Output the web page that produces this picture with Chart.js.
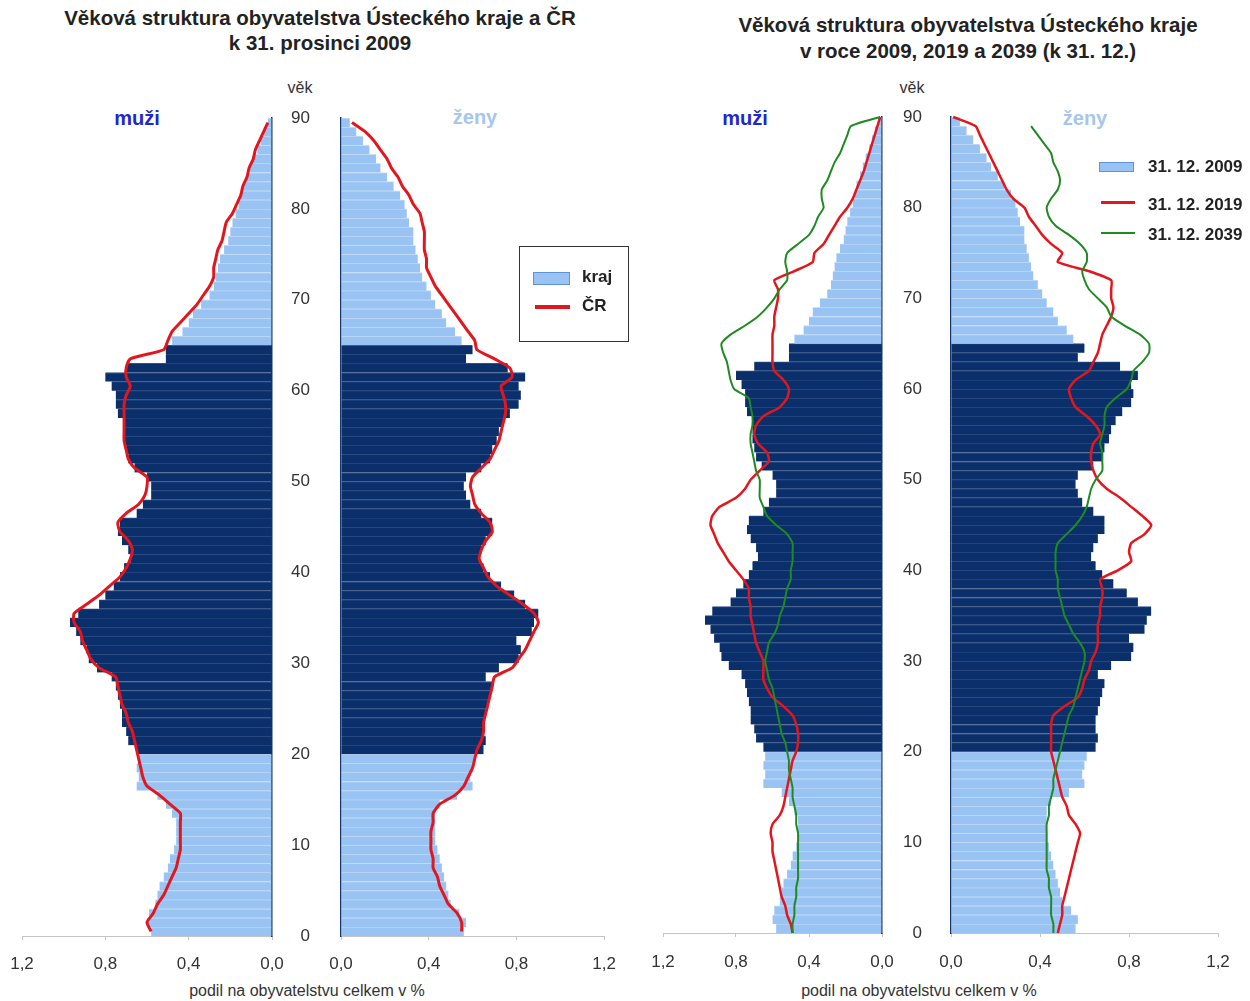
<!DOCTYPE html>
<html><head><meta charset="utf-8">
<script src="https://cdn.jsdelivr.net/npm/chart.js@4.4.1/dist/chart.umd.min.js"></script>
<style>
body{margin:0;background:#fff;font-family:"Liberation Sans",Arial,sans-serif;color:#222}
#page{position:relative;width:1250px;height:1001px;overflow:hidden;background:#fff}
.c{position:absolute;transform:translate(-50%,-50%);white-space:nowrap}
.l{position:absolute;transform:translate(0,-50%);white-space:nowrap}
.abs{position:absolute}
canvas{position:absolute}
.title{font-weight:bold;font-size:20.5px;color:#222}
.muzi{font-weight:bold;font-size:20px;color:#2424d0}
.zeny{font-weight:bold;font-size:20px;color:#a6c6ee}
.vek{font-size:16px;color:#333}
.axt{font-size:16px;color:#333}
.leg{font-weight:bold;font-size:17px;color:#222}
</style></head><body><div id="page">
<div class="c title" style="left:320px;top:18px">Věková struktura obyvatelstva Ústeckého kraje a ČR</div>
<div class="c title" style="left:320px;top:43px">k 31. prosinci 2009</div>
<div class="c title" style="left:968px;top:25px">Věková struktura obyvatelstva Ústeckého kraje</div>
<div class="c title" style="left:968px;top:51px">v roce 2009, 2019 a 2039 (k 31. 12.)</div>
<div class="c vek" style="left:300px;top:88px">věk</div>
<div class="c vek" style="left:912px;top:88px">věk</div>
<div class="c muzi" style="left:137px;top:118px">muži</div>
<div class="c zeny" style="left:475px;top:117px">ženy</div>
<div class="c muzi" style="left:745px;top:118px">muži</div>
<div class="c zeny" style="left:1085px;top:118px">ženy</div>
<div class="c axt" style="left:307px;top:991px">podil na obyvatelstvu celkem v %</div>
<div class="c axt" style="left:919px;top:991px">podil na obyvatelstvu celkem v %</div>

<canvas id="cLM" width="335" height="900" style="left:0;top:100px"></canvas>
<canvas id="cLF" width="320" height="900" style="left:310px;top:100px"></canvas>
<canvas id="cRM" width="300" height="900" style="left:640px;top:100px"></canvas>
<canvas id="cRF" width="330" height="900" style="left:920px;top:100px"></canvas>

<div class="abs" style="left:519px;top:246px;width:108px;height:94px;border:1px solid #333"></div>
<div class="abs" style="left:533px;top:272px;width:35px;height:11px;background:#99c3f3;border:1px solid #5f92d8"></div>
<div class="l leg" style="left:582px;top:277px">kraj</div>
<div class="abs" style="left:535px;top:305px;width:35px;height:4px;background:#e3161d"></div>
<div class="l leg" style="left:582px;top:306px">ČR</div>

<div class="abs" style="left:1099px;top:162px;width:33px;height:8px;background:#99c3f3;border:1px solid #5f92d8"></div>
<div class="l leg" style="left:1148px;top:167px">31. 12. 2009</div>
<div class="abs" style="left:1101px;top:201px;width:34px;height:3px;background:#e3161d"></div>
<div class="l leg" style="left:1148px;top:205px">31. 12. 2019</div>
<div class="abs" style="left:1101px;top:232px;width:34px;height:2px;background:#1f8a22"></div>
<div class="l leg" style="left:1148px;top:235px">31. 12. 2039</div>
</div>
<script>
// ages 0..89 (bars, 2009)
const ages = Array.from({length: 90}, (_, i) => i);
// ages 0..90 (projection lines)
const agesProj = Array.from({length: 91}, (_, i) => i);
const xTicks = [0, 0.4, 0.8, 1.2];
const ageTicks = [0, 10, 20, 30, 40, 50, 60, 70, 80, 90];

const maleKraj2009 = [0.58,0.60,0.59,0.56,0.55,0.54,0.52,0.50,0.49,0.47,
 0.46,0.46,0.46,0.48,0.51,0.55,0.65,0.64,0.65,0.64,
 0.65,0.69,0.70,0.72,0.72,0.73,0.74,0.75,0.77,0.84,
 0.88,0.89,0.92,0.94,0.97,0.93,0.83,0.80,0.76,0.73,
 0.71,0.68,0.69,0.72,0.74,0.73,0.65,0.62,0.58,0.58,
 0.60,0.66,0.69,0.70,0.71,0.71,0.71,0.74,0.75,0.75,
 0.77,0.80,0.70,0.51,0.51,0.48,0.43,0.40,0.38,0.34,
 0.30,0.28,0.27,0.26,0.25,0.23,0.21,0.20,0.19,0.175,
 0.16,0.15,0.14,0.12,0.106,0.09,0.07,0.055,0.04,0.02];
const femaleKraj2009 = [0.56,0.57,0.54,0.50,0.49,0.48,0.47,0.46,0.45,0.44,
 0.43,0.43,0.43,0.43,0.45,0.53,0.60,0.59,0.60,0.61,
 0.65,0.66,0.65,0.65,0.66,0.67,0.68,0.69,0.66,0.72,
 0.81,0.82,0.80,0.87,0.88,0.90,0.84,0.79,0.73,0.68,
 0.65,0.63,0.64,0.66,0.69,0.69,0.64,0.59,0.57,0.56,
 0.57,0.64,0.68,0.69,0.71,0.72,0.74,0.77,0.81,0.82,
 0.81,0.84,0.76,0.57,0.60,0.55,0.52,0.48,0.46,0.43,
 0.41,0.39,0.37,0.36,0.35,0.34,0.33,0.33,0.31,0.30,
 0.29,0.27,0.24,0.21,0.18,0.16,0.13,0.10,0.07,0.04];
const maleCR2009 = [0.58,0.60,0.57,0.55,0.52,0.50,0.48,0.46,0.45,0.44,
 0.44,0.44,0.44,0.44,0.49,0.54,0.60,0.62,0.63,0.64,
 0.65,0.66,0.67,0.69,0.70,0.72,0.73,0.74,0.75,0.83,
 0.87,0.89,0.91,0.92,0.95,0.95,0.89,0.83,0.78,0.73,
 0.70,0.68,0.67,0.69,0.73,0.74,0.70,0.64,0.61,0.60,
 0.60,0.66,0.69,0.70,0.71,0.71,0.71,0.71,0.71,0.70,
 0.68,0.70,0.70,0.68,0.52,0.50,0.48,0.44,0.40,0.36,
 0.33,0.30,0.28,0.28,0.27,0.26,0.24,0.23,0.22,0.19,
 0.17,0.15,0.14,0.12,0.11,0.09,0.08,0.06,0.04,0.02];
const femaleCR2009 = [0.55,0.55,0.53,0.49,0.47,0.45,0.44,0.42,0.42,0.41,
 0.41,0.41,0.42,0.42,0.45,0.52,0.56,0.58,0.60,0.61,
 0.62,0.64,0.65,0.65,0.66,0.67,0.68,0.69,0.70,0.78,
 0.81,0.84,0.86,0.88,0.90,0.88,0.83,0.77,0.71,0.67,
 0.65,0.63,0.64,0.66,0.69,0.68,0.64,0.61,0.60,0.59,
 0.60,0.64,0.68,0.70,0.72,0.73,0.74,0.75,0.75,0.74,
 0.73,0.78,0.77,0.70,0.62,0.61,0.58,0.55,0.52,0.49,
 0.46,0.43,0.41,0.39,0.39,0.38,0.38,0.38,0.37,0.36,
 0.33,0.31,0.28,0.26,0.23,0.21,0.18,0.15,0.11,0.05];

const male2019 = [0.49,0.50,0.52,0.53,0.55,0.56,0.57,0.58,0.59,0.60,
 0.60,0.61,0.60,0.56,0.54,0.53,0.52,0.51,0.50,0.49,
 0.47,0.46,0.46,0.47,0.49,0.54,0.60,0.63,0.65,0.65,
 0.65,0.67,0.69,0.70,0.71,0.72,0.72,0.73,0.73,0.76,
 0.80,0.84,0.87,0.90,0.92,0.94,0.93,0.89,0.80,0.75,
 0.72,0.67,0.62,0.63,0.68,0.70,0.69,0.65,0.56,0.52,
 0.51,0.54,0.59,0.60,0.60,0.60,0.60,0.59,0.59,0.58,
 0.57,0.57,0.59,0.48,0.38,0.37,0.32,0.29,0.26,0.23,
 0.19,0.16,0.14,0.12,0.10,0.085,0.07,0.055,0.04,0.025,0.01];
const male2039 = [0.49,0.49,0.48,0.48,0.47,0.47,0.46,0.46,0.46,0.46,
 0.46,0.46,0.47,0.47,0.48,0.49,0.49,0.50,0.51,0.51,
 0.52,0.53,0.55,0.56,0.57,0.58,0.59,0.60,0.62,0.63,
 0.64,0.63,0.62,0.59,0.57,0.56,0.54,0.53,0.52,0.50,
 0.50,0.49,0.49,0.49,0.52,0.58,0.63,0.65,0.67,0.67,
 0.67,0.69,0.70,0.71,0.72,0.72,0.71,0.71,0.72,0.73,
 0.81,0.83,0.84,0.85,0.87,0.88,0.83,0.75,0.68,0.63,
 0.59,0.56,0.52,0.52,0.53,0.52,0.46,0.40,0.37,0.35,
 0.32,0.33,0.33,0.30,0.28,0.26,0.23,0.21,0.19,0.17,0.01];
const female2019 = [0.48,0.49,0.50,0.50,0.51,0.52,0.53,0.54,0.55,0.56,
 0.57,0.58,0.56,0.53,0.52,0.50,0.49,0.48,0.47,0.46,
 0.45,0.45,0.45,0.45,0.46,0.51,0.57,0.59,0.60,0.62,
 0.63,0.65,0.66,0.66,0.66,0.67,0.67,0.68,0.68,0.67,
 0.75,0.81,0.80,0.81,0.87,0.90,0.86,0.81,0.76,0.70,
 0.66,0.64,0.63,0.63,0.64,0.67,0.65,0.61,0.56,0.54,
 0.53,0.56,0.62,0.64,0.66,0.67,0.68,0.70,0.72,0.73,
 0.72,0.72,0.72,0.62,0.48,0.50,0.45,0.41,0.38,0.35,
 0.33,0.28,0.25,0.23,0.21,0.19,0.17,0.15,0.13,0.11,0.01];
const female2039 = [0.46,0.46,0.45,0.45,0.45,0.44,0.44,0.43,0.43,0.43,
 0.43,0.43,0.43,0.44,0.44,0.45,0.46,0.46,0.47,0.48,
 0.49,0.50,0.51,0.52,0.53,0.55,0.56,0.57,0.58,0.59,
 0.60,0.60,0.58,0.55,0.53,0.51,0.50,0.49,0.48,0.48,
 0.47,0.47,0.47,0.48,0.52,0.56,0.59,0.61,0.62,0.63,
 0.65,0.68,0.68,0.68,0.67,0.68,0.69,0.69,0.70,0.74,
 0.79,0.81,0.82,0.86,0.89,0.89,0.85,0.78,0.72,0.70,
 0.66,0.62,0.60,0.59,0.61,0.61,0.58,0.53,0.47,0.44,
 0.43,0.45,0.48,0.49,0.48,0.46,0.45,0.42,0.39,0.36,null];

Chart.defaults.font.family = '"Liberation Sans", Arial, sans-serif';
Chart.defaults.color = '#333';
const LIGHT = '#99c3f3', DARK = '#0b2f6b', LIGHT_SEP = '#c8ddf7', DARK_SEP = '#2f4f86';
const RED = '#e3161d', GREEN = '#1f8a22';
const isWorkAge = a => a >= 20 && a <= 64;
const fmt = v => Number(v).toFixed(1).replace('.', ',');

function makeHalf(id, o) {
  const datasets = [];
  o.lines.forEach(l => {
    const pts = [];
    l.data.forEach((v, i) => { if (v != null) pts.push({x: v, y: l.ages[i] + o.lineShift}); });
    datasets.push({type: 'line', label: l.label, data: pts, borderColor: l.color,
      borderWidth: l.width, pointRadius: 0, tension: 0.2, fill: false, order: 1, clip: false});
  });
  datasets.push({type: 'bar', label: 'kraj', data: ages.map((a, i) => ({x: o.bars[i], y: a + 0.5})),
    backgroundColor: ages.map(a => isWorkAge(a) ? DARK : LIGHT),
    borderColor: ages.map(a => isWorkAge(a) ? DARK_SEP : LIGHT_SEP),
    borderWidth: {top: 1, bottom: 0, left: 0, right: 0}, borderSkipped: false,
    barPercentage: 1, categoryPercentage: 1, order: 2});
  new Chart(document.getElementById(id), {
    type: 'bar',
    data: {datasets},
    options: {
      indexAxis: 'y', responsive: false, animation: false,
      layout: {padding: o.padding},
      plugins: {legend: {display: false}, tooltip: {enabled: false}},
      scales: {
        x: {type: 'linear', min: 0, max: 1.2, reverse: o.male, position: 'bottom',
          afterBuildTicks: s => { s.ticks = xTicks.map(v => ({value: v})); },
          afterFit: s => { s.height = o.xh; },
          ticks: {callback: v => fmt(v), font: {size: 17}, padding: o.xpad, maxRotation: 0, autoSkip: false},
          grid: {display: true, drawOnChartArea: false, drawTicks: true, tickLength: 4, color: '#c4c4c4'},
          border: {display: true, color: '#c4c4c4', width: 1}},
        y: {type: 'linear', min: 0, max: 90, offset: false, position: o.male ? 'right' : 'left',
          afterBuildTicks: s => { s.ticks = ageTicks.map(v => ({value: v})); },
          afterFit: s => { s.width = o.yw; },
          ticks: {display: o.male, font: {size: 17}, padding: 0, crossAlign: 'far', autoSkip: false},
          grid: {display: false, drawTicks: false, offset: false},
          border: {display: true, color: '#15346c', width: 1.5}}
      }
    }
  });
}

makeHalf('cLM', {male: true, bars: maleKraj2009, lineShift: 0.5,
  lines: [{label: 'ČR', data: maleCR2009, ages: ages, color: RED, width: 3}],
  padding: {left: 22, top: 18, right: 25, bottom: 0}, yw: 38, xh: 64, xpad: 14});
makeHalf('cLF', {male: false, bars: femaleKraj2009, lineShift: 0.5,
  lines: [{label: 'ČR', data: femaleCR2009, ages: ages, color: RED, width: 3}],
  padding: {left: 0, top: 18, right: 23, bottom: 0}, yw: 31, xh: 64, xpad: 14});
makeHalf('cRM', {male: true, bars: maleKraj2009, lineShift: 0,
  lines: [{label: '31. 12. 2039', data: male2039, ages: agesProj, color: GREEN, width: 2},
          {label: '31. 12. 2019', data: male2019, ages: agesProj, color: RED, width: 2.5}],
  padding: {left: 23, top: 17, right: 18, bottom: 0}, yw: 40, xh: 67, xpad: 15});
makeHalf('cRF', {male: false, bars: femaleKraj2009, lineShift: 0,
  lines: [{label: '31. 12. 2039', data: female2039, ages: agesProj, color: GREEN, width: 2},
          {label: '31. 12. 2019', data: female2019, ages: agesProj, color: RED, width: 2.5}],
  padding: {left: 0, top: 17, right: 32, bottom: 0}, yw: 31, xh: 67, xpad: 15});
</script>
</body></html>
